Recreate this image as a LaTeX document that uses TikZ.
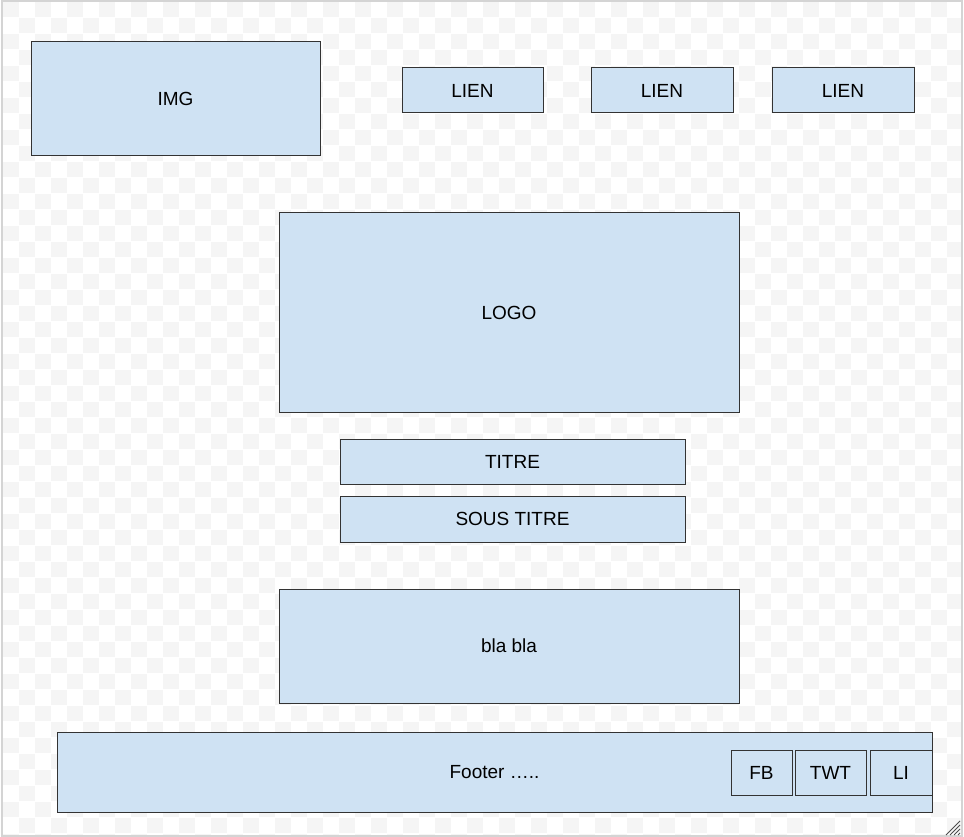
\documentclass[tikz,border=0pt]{standalone}
\usepackage{fontspec}
\setmainfont{Liberation Sans}
\definecolor{boxfill}{HTML}{CFE2F3}
\definecolor{boxline}{HTML}{333333}
\definecolor{checker}{HTML}{F5F5F5}
\definecolor{frame}{HTML}{D4D4D4}
\begin{document}
\begin{tikzpicture}[x=1pt,y=-1pt,
  box/.style={draw=boxline, fill=boxfill, line width=1pt, inner sep=0pt,
    font=\fontsize{19}{22}\selectfont},
  grip/.style={draw=black!70, line width=0.8pt}]
\useasboundingbox (0,0) rectangle (964,837);
\fill[white] (0,0) rectangle (964,837);
\begin{scope}
\clip (3,2) rectangle (961,835);
\foreach \i in {0,2,...,60}{
  \foreach \j in {0,2,...,52}{
    \fill[checker] ({3+16*\i},{2+16*\j}) rectangle ++(16,15);
    \fill[checker] ({3+16*(\i+1)},{2+16*(\j+1)}) rectangle ++(16,15);
  }
}
\end{scope}
\draw[frame, line width=2pt] (2,1) rectangle (962,836);
% resize grip
\foreach \k in {0,4,8,12}{
  \draw[grip] ({946+\k},835) -- (960,{821+\k});
}
% boxes
\node[box, minimum width=289pt, minimum height=114pt] (img) at (175.5,99) {IMG};
\node[box, minimum width=141pt, minimum height=45pt] (lien1) at (472.5,90.5) {LIEN};
\node[box, minimum width=142pt, minimum height=45pt] (lien2) at (662,90.5) {LIEN};
\node[box, minimum width=142pt, minimum height=45pt] (lien3) at (843,90.5) {LIEN};
\node[box, minimum width=460pt, minimum height=199pt] (logo) at (509,312.5) {LOGO};
\node[box, minimum width=345pt, minimum height=45pt] (titre) at (512.5,461.5) {TITRE};
\node[box, minimum width=345pt, minimum height=46pt] (sous) at (512.5,519) {SOUS TITRE};
\node[box, minimum width=460pt, minimum height=114pt] (bla) at (509,646) {bla bla};
\node[box, minimum width=875pt, minimum height=80pt] (footer) at (494.5,772) {Footer …..};
\node[box, minimum width=61pt, minimum height=45pt] (fb) at (761.5,772.5) {FB};
\node[box, minimum width=71pt, minimum height=45pt] (twt) at (830.5,772.5) {TWT};
\node[box, minimum width=62pt, minimum height=45pt] (li) at (901,772.5) {LI};
\end{tikzpicture}
\end{document}
